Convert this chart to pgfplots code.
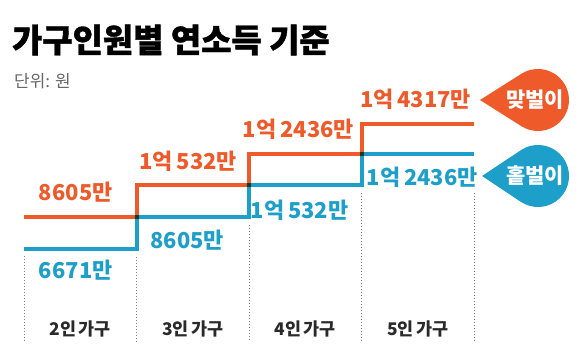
\documentclass[border=0pt]{standalone}
\usepackage{pgfplots}
\pgfplotsset{compat=1.18}
\usepackage{fontspec}
\setmainfont{Noto Sans CJK KR}
\newfontfamily\heavy{Noto Sans CJK KR}[BoldFeatures={FakeBold=1.2}]
\definecolor{orgC}{HTML}{EF5A2A}
\definecolor{bluC}{HTML}{1E9FCA}
\definecolor{grayT}{HTML}{666666}
\definecolor{darkT}{HTML}{2A2A2A}
\begin{document}
\begin{tikzpicture}[x=1bp,y=1bp]
\path (0,0) rectangle (578,357);
\node[anchor=west, font=\heavy\bfseries\fontsize{33}{35}\selectfont, inner sep=0] at (12,317) {가구인원별 연소득 기준};
\node[anchor=west, font=\fontsize{17}{19}\selectfont, text=grayT, inner sep=0] at (14,276) {단위: 원};
\begin{axis}[at={(24bp,15.7bp)}, anchor=south west, scale only axis,
  width=450bp, height=278bp, xmin=0, xmax=4, ymin=1000, ymax=18000,
  hide axis, clip=false]
\draw[gray, dotted, line width=1bp] (axis cs:0,6220) -- (axis cs:0,1000);
\draw[gray, dotted, line width=1bp] (axis cs:1,6160) -- (axis cs:1,1000);
\draw[gray, dotted, line width=1bp] (axis cs:2,8116) -- (axis cs:2,1000);
\draw[gray, dotted, line width=1bp] (axis cs:3,10073) -- (axis cs:3,1000);
\draw[gray, dotted, line width=1bp] (axis cs:4,10073) -- (axis cs:4,1000);
\addplot[const plot, orgC, line width=4bp, line join=miter, mark=none] coordinates {(0,8605)(1,10532)(2,12436)(3,14317)(4,14317)};
\begin{scope}[blend mode=multiply]
\addplot[const plot, bluC, line width=4bp, line join=miter, mark=none] coordinates {(0,6671)(1,8605)(2,10532)(3,12436)(4,12436)};
\end{scope}
% value labels
\tikzset{vl/.style={font=\bfseries\fontsize{22}{24}\selectfont, inner sep=0}}
\node[vl, text=orgC, yshift=25bp] at (axis cs:0.46,8605) {8605만};
\node[vl, text=bluC, yshift=-22bp] at (axis cs:0.46,6671) {6671만};
\node[vl, text=orgC, yshift=24bp] at (axis cs:1.46,10532) {1억\hspace{0.18em}532만};
\node[vl, text=bluC, yshift=-23bp] at (axis cs:1.45,8605) {8605만};
\node[vl, text=orgC, yshift=25bp] at (axis cs:2.44,12436) {1억\hspace{0.18em}2436만};
\node[vl, text=bluC, yshift=-25bp] at (axis cs:2.45,10532) {1억\hspace{0.18em}532만};
\node[vl, text=orgC, yshift=24bp] at (axis cs:3.48,14317) {1억\hspace{0.18em}4317만};
\node[vl, text=bluC, yshift=-23bp] at (axis cs:3.54,12436) {1억\hspace{0.18em}2436만};
% category labels
\tikzset{cl/.style={font=\bfseries\fontsize{17.5}{19}\selectfont, text=darkT, inner sep=0}}
\node[cl] at (axis cs:0.5,1756) {2인\hspace{0.15em}가구};
\node[cl] at (axis cs:1.5,1756) {3인\hspace{0.15em}가구};
\node[cl] at (axis cs:2.5,1756) {4인\hspace{0.15em}가구};
\node[cl] at (axis cs:3.5,1756) {5인\hspace{0.15em}가구};
\end{axis}
% teardrop legend labels
\fill[orgC] (480,257) -- (521.4,283.2) arc[start angle=122.3, end angle=-122.3, radius=31] -- cycle;
\node[text=white, font=\bfseries\fontsize{21}{23}\selectfont, inner sep=0] at (535,257) {맞벌이};
\fill[bluC] (482,181) -- (520.85,206.8) arc[start angle=123.6, end angle=-123.6, radius=31] -- cycle;
\node[text=white, font=\bfseries\fontsize{21}{23}\selectfont, inner sep=0] at (535,181) {홑벌이};
\end{tikzpicture}
\end{document}
